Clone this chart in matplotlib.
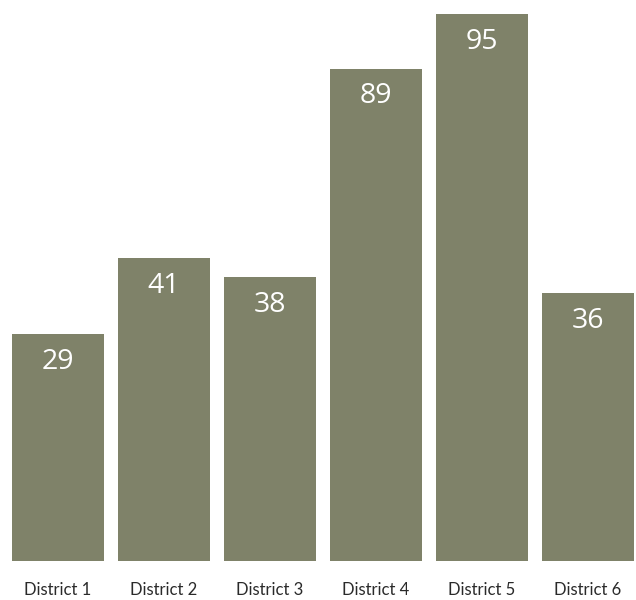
import matplotlib
matplotlib.use("Agg")
import matplotlib.pyplot as plt

categories = ["District 1", "District 2", "District 3", "District 4", "District 5", "District 6"]
labels = [29, 41, 38, 89, 95, 36]
# bar heights as drawn (same units as top bar)
heights = [39.4, 52.6, 49.3, 85.5, 95.0, 46.5]

fig = plt.figure(figsize=(6.36, 6.0), dpi=100)
ax = fig.add_axes([12 / 636, 39 / 600, 622 / 636, 547 / 600])
x = list(range(len(categories)))
bw = 0.868
ax.bar(x, heights, width=bw, color="#7f8269")
ax.set_xlim(-bw / 2, len(categories) - 1 + bw / 2)
ax.set_ylim(0, max(heights))

for xi, h, lab in zip(x, heights, labels):
    ax.annotate(str(lab), (xi, h), xytext=(0, -20), textcoords="offset points",
                ha="center", va="center", color="white", fontsize=20.5,
                family="Open Sans")

ax.set_xticks(x)
ax.set_xticklabels(categories, family="Lato", fontsize=12, color="#2a2a2a")
ax.tick_params(axis="x", length=0, pad=15)
ax.set_yticks([])
for s in ax.spines.values():
    s.set_visible(False)

fig.savefig("out.png", dpi=100)
